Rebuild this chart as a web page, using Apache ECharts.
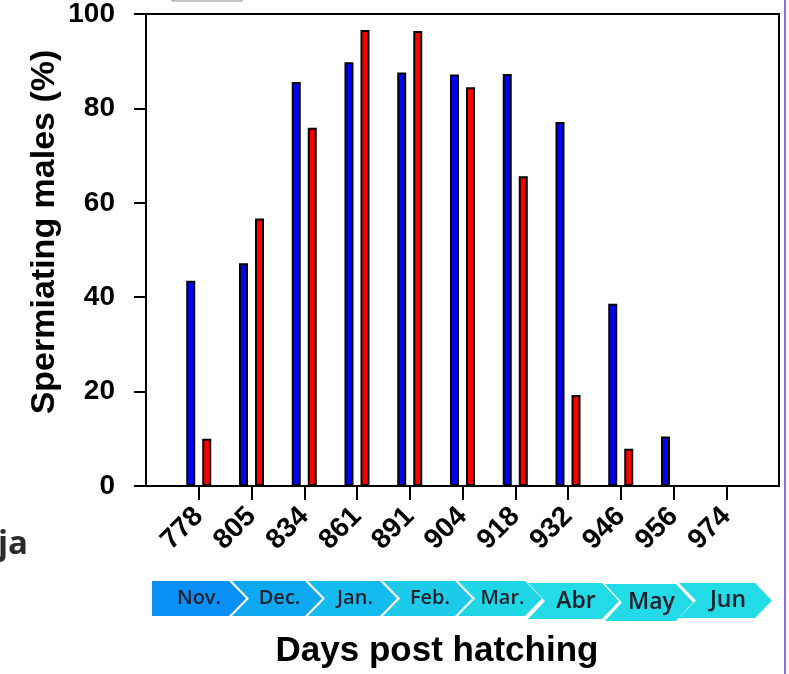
<!DOCTYPE html>
<html>
<head>
<meta charset="utf-8">
<script src="https://cdn.jsdelivr.net/npm/echarts@6/dist/echarts.min.js"></script>
<style>
  html, body { margin: 0; padding: 0; background: #ffffff; }
  #chart { width: 789px; height: 674px; }
</style>
</head>
<body>
<div id="chart"></div>
<script>
// ---- data ----
var categories = ['778', '805', '834', '861', '891', '904', '918', '932', '946', '956', '974'];
var blueValues = [43.5, 47.2, 85.6, 89.8, 87.6, 87.2, 87.3, 77.1, 38.6, 10.5, null];
var redValues  = [10.0, 56.7, 75.9, 96.6, 96.4, 84.5, 65.6, 19.3, 7.9, null, null];
var yTicks = [0, 20, 40, 60, 80, 100];
var months = ['Nov.', 'Dec.', 'Jan.', 'Feb.', 'Mar.', 'Abr', 'May', 'Jun'];

// ---- build ----
function pairs(vals) {
  return vals.map(function (v, i) { return v == null ? null : [i + 1, v]; })
             .filter(function (p) { return p !== null; });
}
var tickPos = categories.map(function (c, i) { return i + 1; });

// month ribbon (decoration)
var monthBoxes = [
  { l: 152, r: 229, t: 581, b: 616, size: 20 },
  { l: 232, r: 305, t: 581, b: 616, size: 20 },
  { l: 308, r: 380, t: 581, b: 616, size: 20 },
  { l: 383, r: 455, t: 581, b: 616, size: 20 },
  { l: 458, r: 525, t: 581, b: 616, size: 20 },
  { l: 528, r: 602, t: 583, b: 619, size: 23 },
  { l: 605, r: 676, t: 584, b: 621, size: 23 },
  { l: 679, r: 755, t: 583, b: 618, size: 23 }
];
var monthColors = ['#0a8ff7', '#0ea8f0', '#14bbee', '#1bcbe9', '#1fd6e6', '#22dbe6', '#22dbe6', '#22dbe6'];
var depth = 17;
var graphics = [];
monthBoxes.forEach(function (b, i) {
  var m = (b.t + b.b) / 2;
  var pts = [[b.l, b.t], [b.r, b.t], [b.r + depth, m], [b.r, b.b], [b.l, b.b]];
  if (i > 0) pts.push([b.l + depth, m]);
  graphics.push({
    type: 'polygon', shape: { points: pts },
    style: { fill: monthColors[i] }, z: 10
  });
  var cx = i === 0 ? (b.l + b.r + depth) / 2 : (b.l + b.r + 2 * depth) / 2 - 6;
  graphics.push({
    type: 'text', x: cx, y: m, z: 11,
    style: {
      text: months[i], fill: '#20202c',
      fontSize: b.size, fontFamily: 'Open Sans', fontWeight: 600,
      align: 'center', verticalAlign: 'middle'
    }
  });
});
// y-axis title
graphics.push({
  type: 'text', x: 45, y: 232, rotation: Math.PI / 2, z: 11,
  style: {
    text: 'Spermiating males (%)', fill: '#000',
    fontSize: 34, fontFamily: 'Liberation Sans', fontWeight: 'bold',
    align: 'center', verticalAlign: 'middle'
  }
});
// x-axis title
graphics.push({
  type: 'text', x: 437, y: 651, z: 11,
  style: {
    text: 'Days post hatching', fill: '#000',
    fontSize: 35, fontFamily: 'Liberation Sans', fontWeight: 'bold',
    align: 'center', verticalAlign: 'middle'
  }
});
// cropped fragment on the left
graphics.push({
  type: 'text', x: -2, y: 545, z: 11,
  style: {
    text: 'ja', fill: '#2a2a2a',
    fontSize: 33, fontFamily: 'Open Sans', fontWeight: 'bold',
    align: 'left', verticalAlign: 'middle'
  }
});
// cropped legend swatch at top
graphics.push({
  type: 'rect', shape: { x: 172, y: -20, width: 70, height: 21 },
  style: { fill: 'none', stroke: '#888', lineWidth: 1 }, z: 11
});
// right-side purple edge
graphics.push({
  type: 'line', shape: { x1: 785, y1: 0, x2: 785, y2: 674 },
  style: { stroke: '#8a6cf0', lineWidth: 2 }, z: 11
});

var chart = echarts.init(document.getElementById('chart'), null, { renderer: 'canvas' });
chart.setOption({
  animation: false,
  backgroundColor: '#ffffff',
  grid: {
    left: 146, right: 10, top: 12, bottom: 188,
    show: true, borderColor: '#000', borderWidth: 2, backgroundColor: 'transparent'
  },
  xAxis: {
    type: 'value', min: 0, max: 12, interval: 1,
    axisLine: { show: true, onZero: false, lineStyle: { color: '#000', width: 2 } },
    axisTick: { show: true, length: 14, customValues: tickPos, lineStyle: { color: '#000', width: 2 } },
    splitLine: { show: false },
    axisLabel: {
      customValues: tickPos,
      rotate: 45, margin: 26,
      color: '#000', fontFamily: 'Liberation Sans', fontWeight: 'bold', fontSize: 28,
      formatter: function (v) { return categories[Math.round(v) - 1] || ''; }
    }
  },
  yAxis: {
    type: 'value', min: yTicks[0], max: yTicks[yTicks.length - 1], interval: 20,
    axisLine: { show: true, lineStyle: { color: '#000', width: 2 } },
    axisTick: { show: true, length: 12, lineStyle: { color: '#000', width: 2 } },
    splitLine: { show: false },
    axisLabel: {
      margin: 31, color: '#000', fontFamily: 'Liberation Sans', fontWeight: 'bold', fontSize: 28
    }
  },
  series: [
    {
      type: 'bar', name: 'blue', data: pairs(blueValues),
      barWidth: 9, barGap: '78%',
      itemStyle: { color: '#0000ff', borderColor: '#000', borderWidth: 2 }
    },
    {
      type: 'bar', name: 'red', data: pairs(redValues),
      barWidth: 9, barGap: '78%',
      itemStyle: { color: '#ff0000', borderColor: '#000', borderWidth: 2 }
    }
  ],
  graphic: graphics
});
</script>
</body>
</html>
